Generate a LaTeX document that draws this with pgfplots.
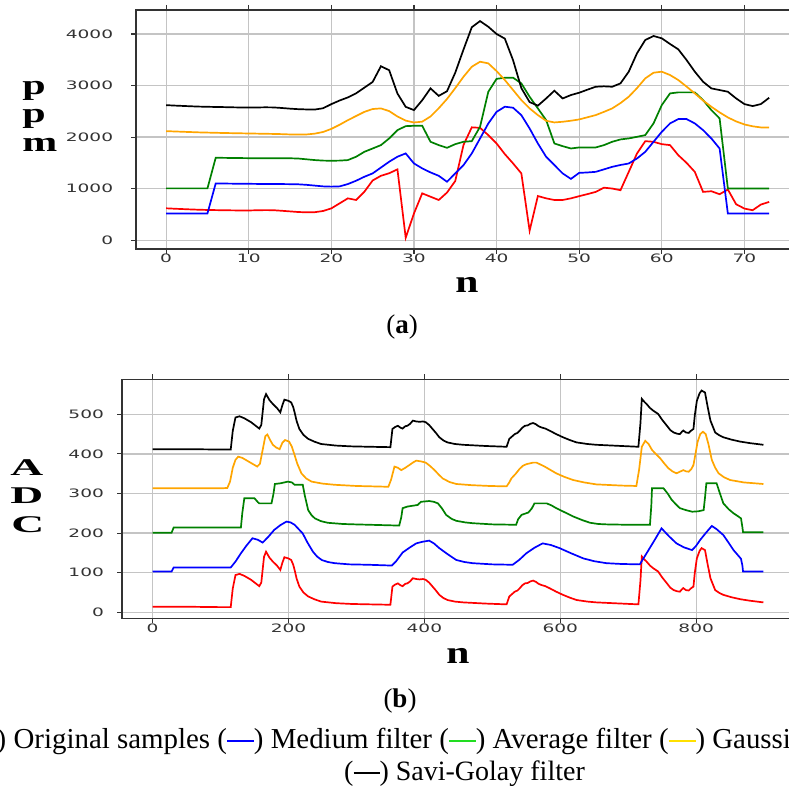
\documentclass[border=0pt]{standalone}
\usepackage{fontspec}
\setmainfont{Liberation Serif}
\newfontfamily\dejavu{DejaVu Sans}
\usepackage{pgfplots}
\pgfplotsset{compat=1.18}
\definecolor{cRed}{HTML}{FF0000}
\definecolor{cBlue}{HTML}{0000FF}
\definecolor{cGreen}{HTML}{008000}
\definecolor{cOrange}{HTML}{FFA500}
\definecolor{gridgray}{HTML}{C4C4C4}
\definecolor{spine}{HTML}{333333}
\definecolor{legGreen}{HTML}{22DD22}
\definecolor{legYellow}{HTML}{FFE000}
\newcommand{\key}[1]{\textcolor{#1}{\rule[0.2em]{0.93em}{0.09em}}}

\pgfplotsset{
  filt/.style={
    scale only axis,
    anchor=south west,
    axis line style={spine, line width=1.2pt},
    grid=major,
    major grid style={gridgray, line width=1.3pt},
    tick align=outside,
    major tick length=5pt,
    tick style={spine, line width=1.1pt},
    scaled ticks=false,
    /pgf/number format/1000 sep={},
    /pgf/number format/assume math mode=true,
    tick label style={font=\dejavu\fontsize{11.6}{12}\selectfont, text=black!80, xscale=1.6},
    xticklabel style={anchor=north, inner sep=0pt},
    yticklabel style={anchor=east, inner sep=0pt},
    no markers,
    every axis plot/.append style={line width=1.7pt},
  }
}

\begin{document}
\begin{tikzpicture}
\useasboundingbox (0,0) rectangle (789pt,785pt);
\clip (0,0) rectangle (789pt,785pt);

% (a) ppm
\begin{axis}[filt, at={(136pt,536pt)}, width=663.3pt, height=239pt,
  xmin=-3.65, xmax=76.65, ymin=-169, ymax=4465,
  xtick={0,10,...,70}, ytick={0,1000,...,4000},
  yticklabel style={xshift=-11pt}]
\addplot[cRed] coordinates {(0,620)(1,612)(2,605)(3,598)(4,592)(5,588)(6,585)(7,582)(8,580)(9,578)(10,578)(11,582)(12,585)(13,583)(14,572)(15,560)(16,548)(17,542)(18,545)(19,568)(20,619)(21,716)(22,813)(23,781)(24,942)(25,1160)(26,1250)(27,1300)(28,1375)(29,50)(30,520)(31,910)(32,845)(33,781)(34,925)(35,1150)(36,1850)(37,2190)(38,2180)(39,2039)(40,1877)(41,1671)(42,1490)(43,1297)(44,185)(45,858)(46,813)(47,781)(48,781)(49,813)(50,855)(51,895)(52,938)(53,1020)(54,1003)(55,971)(56,1326)(57,1683)(58,1922)(59,1909)(60,1864)(61,1845)(62,1650)(63,1501)(64,1326)(65,938)(66,951)(67,893)(68,984)(69,699)(70,615)(71,583)(72,693)(73,744)};
\addplot[cBlue] coordinates {(0,520)(1,520)(2,520)(3,520)(4,520)(5,520)(6,1103)(7,1100)(8,1098)(9,1096)(10,1095)(11,1093)(12,1092)(13,1092)(14,1090)(15,1088)(16,1085)(17,1075)(18,1060)(19,1045)(20,1040)(21,1045)(22,1090)(23,1155)(24,1232)(25,1297)(26,1410)(27,1523)(28,1620)(29,1684)(30,1490)(31,1394)(32,1316)(33,1250)(34,1135)(35,1297)(36,1458)(37,1684)(38,1974)(39,2265)(40,2490)(41,2590)(42,2570)(43,2426)(44,2168)(45,1877)(46,1619)(47,1458)(48,1297)(49,1190)(50,1307)(51,1315)(52,1327)(53,1375)(54,1424)(55,1460)(56,1489)(57,1586)(58,1715)(59,1909)(60,2103)(61,2266)(62,2350)(63,2350)(64,2266)(65,2136)(66,1975)(67,1780)(68,518)(69,518)(70,518)(71,518)(72,518)(73,518)};
\addplot[cGreen] coordinates {(0,1006)(1,1006)(2,1006)(3,1006)(4,1006)(5,1006)(6,1600)(7,1598)(8,1596)(9,1594)(10,1592)(11,1590)(12,1590)(13,1590)(14,1590)(15,1590)(16,1585)(17,1570)(18,1555)(19,1545)(20,1542)(21,1545)(22,1555)(23,1620)(24,1716)(25,1780)(26,1845)(27,1975)(28,2136)(29,2213)(30,2220)(31,2220)(32,1910)(33,1845)(34,1793)(35,1864)(36,1910)(37,1922)(38,2200)(39,2880)(40,3130)(41,3152)(42,3152)(43,3042)(44,2783)(45,2557)(46,2330)(47,1877)(48,1825)(49,1780)(50,1800)(51,1800)(52,1800)(53,1845)(54,1910)(55,1955)(56,1975)(57,2006)(58,2039)(59,2266)(60,2621)(61,2848)(62,2868)(63,2868)(64,2868)(65,2718)(66,2524)(67,2363)(68,1004)(69,1004)(70,1004)(71,1004)(72,1004)(73,1004)};
\addplot[cOrange] coordinates {(0,2116)(1,2110)(2,2104)(3,2098)(4,2092)(5,2088)(6,2084)(7,2080)(8,2077)(9,2074)(10,2071)(11,2068)(12,2065)(13,2062)(14,2058)(15,2052)(16,2050)(17,2052)(18,2068)(19,2100)(20,2160)(21,2240)(22,2329)(23,2410)(24,2490)(25,2545)(26,2557)(27,2505)(28,2400)(29,2320)(30,2284)(31,2300)(32,2400)(33,2560)(34,2740)(35,2950)(36,3171)(37,3365)(38,3462)(39,3430)(40,3281)(41,3107)(42,2913)(43,2718)(44,2557)(45,2427)(46,2317)(47,2285)(48,2298)(49,2318)(50,2343)(51,2385)(52,2427)(53,2490)(54,2557)(55,2660)(56,2783)(57,2950)(58,3139)(59,3249)(60,3269)(61,3204)(62,3107)(63,2980)(64,2848)(65,2710)(66,2589)(67,2480)(68,2382)(69,2305)(70,2246)(71,2210)(72,2188)(73,2188)};
\addplot[black] coordinates {(0,2620)(1,2612)(2,2605)(3,2598)(4,2592)(5,2588)(6,2585)(7,2582)(8,2578)(9,2575)(10,2573)(11,2575)(12,2578)(13,2576)(14,2565)(15,2552)(16,2542)(17,2537)(18,2535)(19,2560)(20,2640)(21,2710)(22,2770)(23,2850)(24,2960)(25,3070)(26,3375)(27,3297)(28,2845)(29,2587)(30,2524)(31,2716)(32,2945)(33,2800)(34,2890)(35,3250)(36,3700)(37,4130)(38,4250)(39,4140)(40,4000)(41,3910)(42,3490)(43,2950)(44,2680)(45,2610)(46,2750)(47,2900)(48,2750)(49,2816)(50,2861)(51,2920)(52,2977)(53,2985)(54,2977)(55,3042)(56,3269)(57,3625)(58,3883)(59,3961)(60,3916)(61,3806)(62,3702)(63,3495)(64,3269)(65,3074)(66,2945)(67,2913)(68,2880)(69,2751)(70,2641)(71,2602)(72,2641)(73,2763)};
\end{axis}

% (b) ADC
\begin{axis}[filt, at={(122pt,166.7pt)}, width=672.7pt, height=239pt,
  xmin=-45, xmax=945, ymin=-15.2, ymax=588.4,
  xtick={0,200,...,800}, ytick={0,100,...,500},
  yticklabel style={xshift=-8pt}]
\addplot[cRed] coordinates {(0,14)(50,14)(100,13)(115,13)(118,60)(122,94)(128,97)(135,92)(145,82)(157,66)(160,75)(164,140)(167,153)(172,138)(177,128)(183,118)(188,107)(191,125)(194,139)(200,136)(204,132)(207,120)(209,107)(212,85)(216,65)(222,50)(229,40)(238,33)(248,27)(270,23)(293,21)(320,20)(350,19)(353,65)(357,70)(361,73)(365,68)(368,66)(372,72)(375,73)(379,78)(383,86)(388,84)(393,83)(398,84)(402,82)(407,75)(412,65)(417,55)(422,44)(428,36)(434,31)(445,27)(457,25)(490,22)(521,20)(525,40)(529,46)(533,52)(537,55)(540,60)(544,68)(548,73)(552,74)(556,78)(560,80)(564,77)(568,72)(572,69)(578,66)(584,61)(594,52)(604,44)(614,37)(624,31)(640,27)(653,25)(690,22)(715,20)(718,80)(720,141)(724,133)(727,128)(732,118)(737,111)(744,103)(750,88)(757,73)(762,62)(767,56)(772,53)(776,52)(779,58)(781,61)(785,56)(789,55)(792,60)(796,65)(798,100)(801,136)(805,155)(808,162)(813,157)(817,120)(821,86)(828,56)(834,49)(840,44)(852,38)(865,33)(880,29)(899,25)};
\addplot[cBlue] coordinates {(0,103)(28,103)(31,113)(115,113)(122,128)(130,149)(138,168)(147,187)(155,183)(162,176)(170,190)(179,208)(188,220)(197,229)(203,227)(209,221)(215,210)(221,199)(228,176)(236,153)(242,141)(249,132)(258,127)(268,124)(290,121)(318,120)(352,118)(358,128)(368,151)(378,163)(388,174)(397,178)(407,181)(414,174)(422,162)(434,147)(447,132)(459,127)(471,124)(500,121)(530,120)(540,133)(550,149)(562,163)(574,174)(586,170)(599,162)(616,149)(634,136)(650,129)(668,124)(690,122)(717,121)(722,135)(727,149)(738,180)(749,212)(760,192)(771,174)(782,164)(794,157)(800,168)(806,183)(815,202)(823,218)(830,210)(840,195)(848,175)(855,157)(862,143)(866,135)(868,118)(869,103)(899,103)};
\addplot[cGreen] coordinates {(0,201)(28,201)(31,214)(130,214)(132,250)(135,288)(150,288)(155,278)(157,275)(175,275)(178,300)(180,324)(189,326)(199,330)(205,328)(209,322)(221,322)(224,295)(229,258)(234,245)(239,237)(248,230)(258,226)(280,223)(298,222)(363,219)(366,240)(368,263)(375,267)(390,271)(395,279)(407,281)(414,279)(420,275)(426,262)(432,246)(440,236)(447,231)(460,227)(471,225)(500,222)(535,221)(538,235)(543,246)(553,252)(558,262)(562,275)(580,275)(587,270)(594,263)(606,253)(619,242)(632,233)(644,226)(656,223)(668,222)(700,221)(732,221)(734,270)(735,313)(752,313)(758,300)(764,284)(770,273)(776,263)(785,258)(794,254)(803,255)(811,258)(813,290)(815,326)(830,326)(835,300)(840,275)(848,260)(855,250)(862,242)(866,237)(868,215)(869,202)(899,202)};
\addplot[cOrange] coordinates {(0,313)(50,313)(100,313)(110,314)(114,330)(118,365)(122,385)(126,393)(132,390)(140,382)(148,374)(154,368)(158,375)(162,410)(166,445)(169,449)(173,435)(177,423)(182,416)(187,412)(191,428)(195,435)(201,431)(205,418)(209,397)(213,375)(219,351)(226,338)(234,330)(250,325)(268,322)(300,319)(347,317)(351,335)(356,368)(361,365)(366,359)(372,365)(378,372)(383,378)(388,383)(395,381)(402,378)(408,370)(415,359)(421,348)(427,338)(437,329)(447,324)(470,321)(496,319)(521,318)(525,328)(528,338)(535,351)(540,362)(545,370)(550,374)(555,376)(560,378)(565,378)(571,373)(577,368)(585,360)(594,351)(606,342)(619,334)(635,328)(653,323)(690,320)(712,319)(716,360)(720,418)(725,433)(730,425)(735,410)(741,399)(747,389)(753,376)(759,364)(765,356)(771,351)(776,355)(781,359)(785,356)(789,355)(793,362)(796,372)(799,400)(802,430)(806,450)(810,456)(814,450)(818,425)(823,385)(828,365)(833,351)(841,341)(850,334)(870,328)(899,324)};
\addplot[black] coordinates {(0,412)(50,412)(100,411)(115,411)(118,458)(122,492)(128,495)(135,490)(145,480)(157,464)(160,473)(164,538)(167,551)(172,536)(177,526)(183,516)(188,505)(191,523)(194,537)(200,534)(204,530)(207,518)(209,505)(212,483)(216,463)(222,448)(229,438)(238,431)(248,425)(270,421)(293,419)(320,418)(350,417)(353,463)(357,468)(361,471)(365,466)(368,464)(372,470)(375,471)(379,476)(383,484)(388,482)(393,481)(398,482)(402,480)(407,473)(412,463)(417,453)(422,442)(428,434)(434,429)(445,425)(457,423)(490,420)(521,418)(525,438)(529,444)(533,450)(537,453)(540,458)(544,466)(548,471)(552,472)(556,476)(560,478)(564,475)(568,470)(572,467)(578,464)(584,459)(594,450)(604,442)(614,435)(624,429)(640,425)(653,423)(690,420)(715,418)(718,478)(720,539)(724,531)(727,526)(732,516)(737,509)(744,501)(750,486)(757,471)(762,460)(767,454)(772,451)(776,450)(779,456)(781,459)(785,454)(789,453)(792,458)(796,463)(798,498)(801,534)(805,553)(808,560)(813,555)(817,518)(821,484)(828,454)(834,447)(840,442)(852,436)(865,431)(880,427)(899,423)};
\end{axis}

% axis titles
\begin{scope}[every node/.style={inner sep=0pt, anchor=base west}]
\node[font=\fontsize{28}{28}\selectfont\bfseries, xscale=1.5] at (22pt,690pt) {p};
\node[font=\fontsize{28}{28}\selectfont\bfseries, xscale=1.5] at (22pt,662pt) {p};
\node[font=\fontsize{28}{28}\selectfont\bfseries, xscale=1.5] at (22pt,633pt) {m};
\node[font=\fontsize{24}{24}\selectfont\bfseries, xscale=1.9] at (10pt,309pt) {A};
\node[font=\fontsize{24}{24}\selectfont\bfseries, xscale=1.9] at (10pt,282pt) {D};
\node[font=\fontsize{24}{24}\selectfont\bfseries, xscale=1.9] at (11pt,253pt) {C};
\end{scope}
\node[font=\fontsize{32}{32}\selectfont\bfseries, xscale=1.3, anchor=base, inner sep=0pt] at (467pt,492pt) {n};
\node[font=\fontsize{32}{32}\selectfont\bfseries, xscale=1.3, anchor=base, inner sep=0pt] at (458pt,122pt) {n};

% sub-captions and key
\node[font=\fontsize{27}{27}\selectfont, anchor=base, inner sep=0pt] at (402pt,451pt) {(\textbf{a})};
\node[font=\fontsize{27}{27}\selectfont, anchor=base, inner sep=0pt] at (400pt,78pt) {(\textbf{b})};
\node[font=\fontsize{28.9}{29}\selectfont, anchor=base west, inner sep=0pt] at (-40pt,37pt)
  {(\key{cRed}) Original samples (\key{cBlue}) Medium filter (\key{legGreen}) Average filter (\key{legYellow}) Gaussian filter};
\node[font=\fontsize{28}{28}\selectfont, anchor=base west, inner sep=0pt] at (344pt,5pt)
  {(\key{black}) Savi-Golay filter};
\end{tikzpicture}
\end{document}
